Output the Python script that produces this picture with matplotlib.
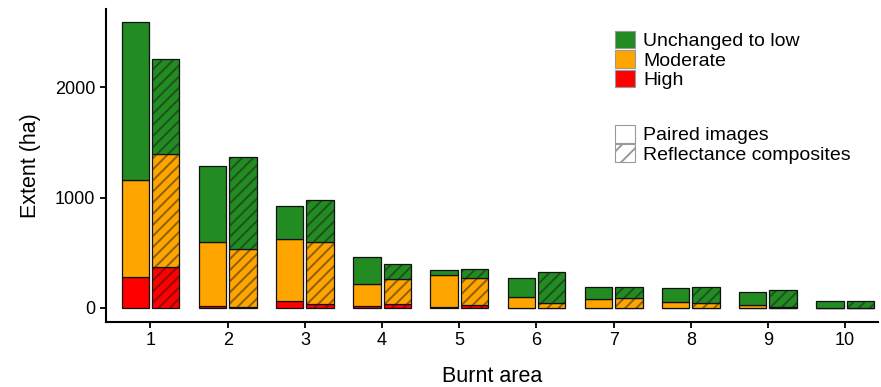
import matplotlib.pyplot as plt
import numpy as np
from matplotlib.patches import Patch

plt.rcParams['font.family'] = ['Liberation Sans', 'DejaVu Sans']
plt.rcParams['hatch.linewidth'] = 1.4

areas = [1, 2, 3, 4, 5, 6, 7, 8, 9, 10]

# extent per severity class (ha), paired images
paired_high = [280, 15, 63, 21, 8, 0, 0, 0, 0, 0]
paired_mod = [878, 583, 560, 197, 290, 97, 82, 52, 24, 2]
paired_low = [1429, 692, 302, 244, 46, 175, 111, 127, 121, 61]

# extent per severity class (ha), reflectance composites
comp_high = [369, 5, 36, 36, 27, 0, 0, 0, 0, 0]
comp_mod = [1030, 527, 559, 224, 242, 48, 88, 43, 5, 0]
comp_low = [856, 840, 381, 142, 84, 276, 102, 145, 161, 63]

classes = ['Unchanged to low', 'Moderate', 'High']
colours = ['#228B22', '#FFA500', '#FF0000']

fig = plt.figure(figsize=(8.81, 3.87), dpi=100)
ax = fig.add_axes([0.120, 0.168, 0.877, 0.809])

x = np.array(areas, dtype=float)
width = 0.355
offset = 0.197


def stack(xpos, high, mod, low, hatched):
    bottom = np.zeros(len(xpos))
    for vals, col in zip([high, mod, low], colours[::-1]):
        vals = np.array(vals, dtype=float)
        ax.bar(xpos, vals, width, bottom=bottom, color=col,
               edgecolor='#111111', linewidth=0.9, zorder=2)
        if hatched:
            ax.bar(xpos, vals, width, bottom=bottom, color='none',
                   edgecolor=(0.1, 0.1, 0.1, 0.5), linewidth=0,
                   hatch='///', zorder=3)
        bottom += vals


stack(x - offset, paired_high, paired_mod, paired_low, False)
stack(x + offset, comp_high, comp_mod, comp_low, True)

ax.set_xlim(0.42, 10.43)
ax.set_ylim(-127, 2710)
ax.set_xticks(areas)
ax.set_yticks([0, 1000, 2000])
ax.set_xlabel('Burnt area', fontsize=15.5, labelpad=12)
ax.set_ylabel('Extent (ha)', fontsize=15.5, labelpad=10)

for side in ['top', 'right']:
    ax.spines[side].set_visible(False)
for side in ['left', 'bottom']:
    ax.spines[side].set_linewidth(1.5)
ax.tick_params(axis='both', labelsize=13, width=1.3, length=4.5,
               colors='black', pad=3)

# severity legend
sev_handles = [Patch(facecolor=c, edgecolor='#999999', linewidth=0.8)
               for c in colours]
fig.legend(sev_handles, classes, loc='upper left',
           bbox_to_anchor=(0.698, 0.921), frameon=False,
           fontsize=14, handlelength=1.05, handleheight=1.02,
           labelspacing=0, handletextpad=0.4, borderpad=0,
           borderaxespad=0)

# image type legend
src_handles = [Patch(facecolor='white', edgecolor='#999999', linewidth=0.8),
               Patch(facecolor='white', edgecolor='#999999', linewidth=0.8,
                     hatch='//')]
fig.legend(src_handles, ['Paired images', 'Reflectance composites'],
           loc='upper left', bbox_to_anchor=(0.698, 0.677), frameon=False,
           fontsize=14, handlelength=1.05, handleheight=1.02,
           labelspacing=0, handletextpad=0.4, borderpad=0, borderaxespad=0)

fig.savefig('out.png', dpi=100)
